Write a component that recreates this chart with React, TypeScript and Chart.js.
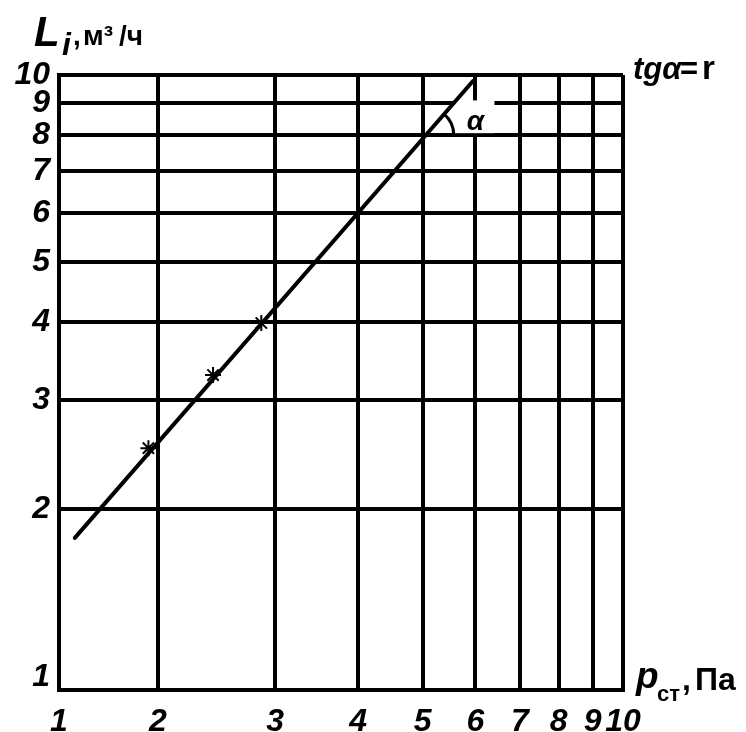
import { useEffect, useRef } from 'react';
import { Chart, registerables } from 'chart.js';

Chart.register(...registerables);

// Axis ticks (log–log grid). The left edge of the x grid is labelled "1" in the original.
const X_TICK_VALUES = [1.42, 2, 3, 4, 5, 6, 7, 8, 9, 10];
const X_TICK_LABELS = ['1', '2', '3', '4', '5', '6', '7', '8', '9', '10'];
const Y_TICK_VALUES = [1.0225, 2, 3, 4, 5, 6, 7, 8, 9, 10];
const Y_TICK_LABELS = ['1', '2', '3', '4', '5', '6', '7', '8', '9', '10'];

// Fitted line (p_ст, L_i)
const LINE_X = [1.5, 5.95];
const LINE_Y = [1.797, 9.78];

// Measured points
const POINT_X = [1.935, 2.42, 2.86];
const POINT_Y = [2.507, 3.287, 3.987];

const TICK_FONT = "'Liberation Sans', Arial, sans-serif";
const TEXT_FONT = "'Liberation Sans', Arial, sans-serif";

function lineXAtY(chart: any, yv: number): number {
  const ly0 = Math.log10(LINE_Y[0]);
  const ly1 = Math.log10(LINE_Y[1]);
  const lx0 = Math.log10(LINE_X[0]);
  const lx1 = Math.log10(LINE_X[1]);
  const t = (Math.log10(yv) - ly0) / (ly1 - ly0);
  const lx = lx0 + t * (lx1 - lx0);
  return chart.scales.x.getPixelForValue(Math.pow(10, lx));
}

const annotations = {
  id: 'annotations',
  beforeDatasetsDraw(chart: any) {
    const { ctx } = chart;
    const ys = chart.scales.y;
    const y9 = ys.getPixelForValue(9);
    const y8 = ys.getPixelForValue(8);
    const xc = lineXAtY(chart, 9);
    ctx.save();
    ctx.fillStyle = '#ffffff';
    // clear the cell around the α label (gridline 9 and gridline 6 segments)
    ctx.fillRect(xc + 1, y9 - 3, 40, y8 - y9 + 1);
    ctx.restore();
  },
  afterDraw(chart: any) {
    const { ctx } = chart;
    const xs = chart.scales.x;
    const ys = chart.scales.y;
    ctx.save();
    ctx.fillStyle = '#000';
    ctx.strokeStyle = '#000';
    ctx.textBaseline = 'alphabetic';
    ctx.textAlign = 'left';

    // Angle arc
    const y8 = ys.getPixelForValue(8);
    const cx = lineXAtY(chart, 8);
    const p0x = xs.getPixelForValue(LINE_X[0]);
    const p0y = ys.getPixelForValue(LINE_Y[0]);
    const p1x = xs.getPixelForValue(LINE_X[1]);
    const p1y = ys.getPixelForValue(LINE_Y[1]);
    const ang = Math.atan2(p1y - p0y, p1x - p0x);
    ctx.lineWidth = 3;
    ctx.beginPath();
    ctx.arc(cx, y8, 28, ang, 0);
    ctx.stroke();
    ctx.font = `bold italic 28px ${TEXT_FONT}`;
    ctx.fillText('α', cx + 41, y8 - 5);

    // Y-axis title  L_i ,м³/ч
    ctx.font = `bold italic 42px ${TEXT_FONT}`;
    ctx.fillText('L', 34, 46);
    ctx.font = `bold italic 32px ${TEXT_FONT}`;
    ctx.fillText('i', 62, 55);
    ctx.font = `bold 28px ${TEXT_FONT}`;
    ctx.fillText(',', 73, 45);
    ctx.fillText('м³', 83, 45);
    ctx.fillText('/ч', 119, 45);

    // tgα=r
    ctx.font = `bold italic 31px ${TEXT_FONT}`;
    ctx.fillText('tgα', 633, 79);
    ctx.font = `bold 31px ${TEXT_FONT}`;
    ctx.fillText('=', 680, 79);
    ctx.font = `bold 33px ${TEXT_FONT}`;
    ctx.fillText('r', 702, 79);

    // X-axis title  p_ст,Па
    ctx.font = `bold italic 37px ${TEXT_FONT}`;
    ctx.fillText('p', 636, 688);
    ctx.font = `bold 22px ${TEXT_FONT}`;
    ctx.fillText('ст', 657, 701);
    ctx.font = `bold 32px ${TEXT_FONT}`;
    ctx.fillText(',', 682, 690);
    ctx.fillText('Па', 695, 690);

    ctx.restore();
  },
};

export default function App() {
  const canvasRef = useRef<HTMLCanvasElement | null>(null);

  useEffect(() => {
    const canvas = canvasRef.current;
    if (!canvas) return;
    const lineData = LINE_X.map((x, i) => ({ x, y: LINE_Y[i] }));
    const pointData = POINT_X.map((x, i) => ({ x, y: POINT_Y[i] }));
    const chart = new Chart(canvas, {
      type: 'scatter',
      data: {
        datasets: [
          {
            data: lineData,
            showLine: true,
            borderColor: '#000',
            borderWidth: 4,
            borderCapStyle: 'round',
            pointRadius: 0,
            order: 2,
          } as any,
          {
            data: pointData,
            showLine: false,
            pointStyle: 'star',
            pointRadius: 8,
            pointBorderWidth: 2,
            borderColor: '#000',
            backgroundColor: '#000',
            order: 1,
          } as any,
        ],
      },
      options: {
        animation: false,
        responsive: false,
        devicePixelRatio: 1,
        layout: { padding: { left: 0, top: 75, right: 123, bottom: 0 } },
        plugins: {
          legend: { display: false },
          tooltip: { enabled: false },
          title: { display: false },
        },
        scales: {
          x: {
            type: 'logarithmic',
            min: X_TICK_VALUES[0],
            max: X_TICK_VALUES[X_TICK_VALUES.length - 1],
            afterBuildTicks: (scale: any) => {
              scale.ticks = X_TICK_VALUES.map((v) => ({ value: v }));
            },
            afterFit: (scale: any) => {
              scale.height = 42;
            },
            grid: { color: '#000', lineWidth: 4, drawTicks: false },
            border: { display: true, color: '#000', width: 4 },
            ticks: {
              autoSkip: false,
              maxRotation: 0,
              padding: 13,
              color: '#000',
              font: { family: TICK_FONT, size: 32, weight: 'bold', style: 'italic' },
              callback: (_v: any, i: number) => X_TICK_LABELS[i],
            },
          },
          y: {
            type: 'logarithmic',
            min: Y_TICK_VALUES[0],
            max: Y_TICK_VALUES[Y_TICK_VALUES.length - 1],
            afterBuildTicks: (scale: any) => {
              scale.ticks = Y_TICK_VALUES.map((v) => ({ value: v }));
            },
            afterFit: (scale: any) => {
              scale.width = 59;
            },
            grid: { color: '#000', lineWidth: 4, drawTicks: false },
            border: { display: true, color: '#000', width: 4 },
            ticks: {
              autoSkip: false,
              padding: 9,
              color: '#000',
              font: { family: TICK_FONT, size: 32, weight: 'bold', style: 'italic', lineHeight: 0.8 },
              callback: (_v: any, i: number) => (i === 0 ? [Y_TICK_LABELS[i], ''] : Y_TICK_LABELS[i]),
            },
          },
        },
      },
      plugins: [annotations],
    });
    return () => chart.destroy();
  }, []);

  return (
    <div style={{ position: 'fixed', left: 0, top: 0, width: 746, height: 732, background: '#fff' }}>
      <canvas ref={canvasRef} width={746} height={732} style={{ display: 'block' }} />
    </div>
  );
}
